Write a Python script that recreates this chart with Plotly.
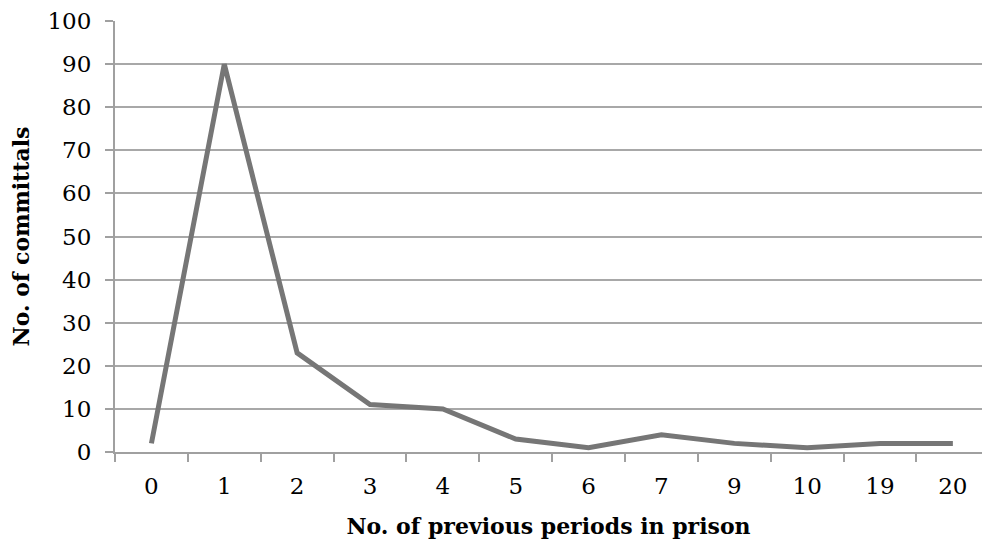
import plotly.graph_objects as go

categories = ["0", "1", "2", "3", "4", "5", "6", "7", "9", "10", "19", "20"]
commitals = [2, 90, 23, 11, 10, 3, 1, 4, 2, 1, 2, 2]

fig = go.Figure()
fig.add_trace(go.Scatter(
    x=categories, y=commitals, mode="lines",
    line=dict(color="#767676", width=5),
    hoverinfo="x+y",
))

font_family = "DejaVu Serif"
fig.update_layout(
    width=982, height=543,
    margin=dict(l=115, r=0, t=21, b=91),
    plot_bgcolor="white", paper_bgcolor="white",
    showlegend=False,
    font=dict(family=font_family, size=23, color="black"),
)
fig.update_xaxes(
    type="category",
    range=[-0.5, 11.4],
    tickson="boundaries",
    ticks="outside", ticklen=8, tickwidth=2, tickcolor="#a0a0a0",
    showline=True, linecolor="#a0a0a0", linewidth=2,
    showgrid=False, zeroline=False,
    tickfont=dict(family=font_family, size=23),
    ticklabelstandoff=12,
    title=dict(text="<b>No. of previous periods in prison</b>",
               font=dict(family=font_family, size=22), standoff=21),
)
fig.update_yaxes(
    range=[0, 100], dtick=10,
    ticks="outside", ticklen=8, tickwidth=2, tickcolor="#a0a0a0",
    showline=True, linecolor="#a0a0a0", linewidth=2,
    showgrid=True, gridcolor="#a8a8a8", gridwidth=2,
    zeroline=False,
    tickfont=dict(family=font_family, size=23),
    ticklabelstandoff=9,
    title=dict(text="<b>No. of committals</b>",
               font=dict(family=font_family, size=22), standoff=12),
)

fig.write_html("out.html")
